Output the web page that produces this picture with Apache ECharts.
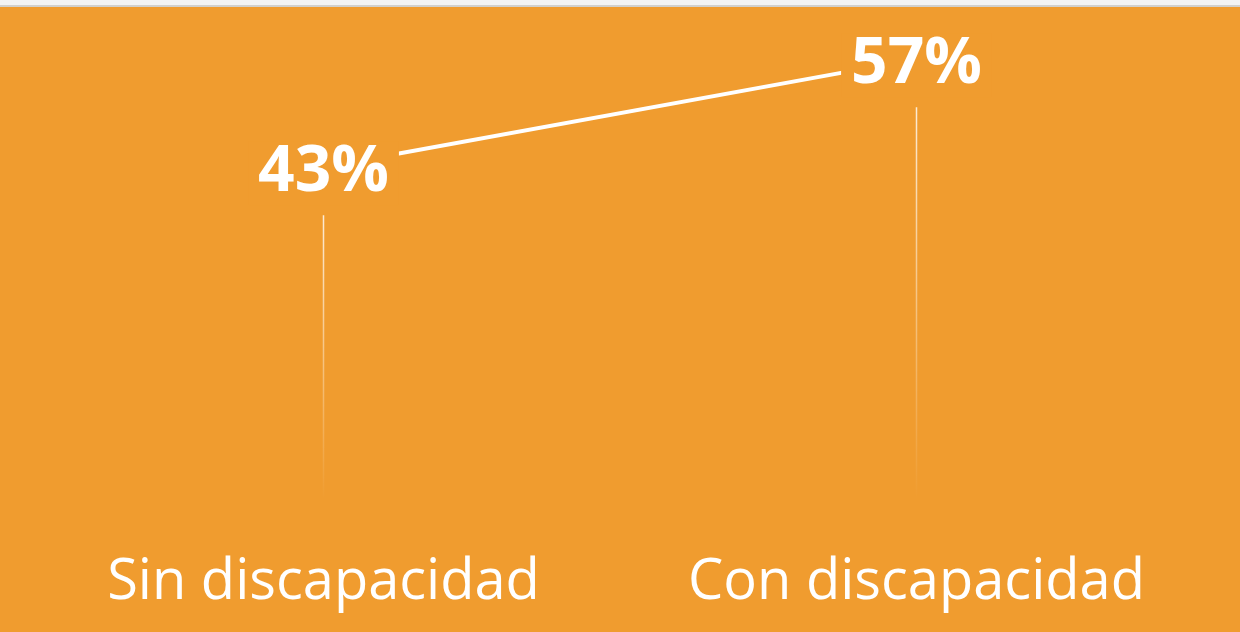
<!DOCTYPE html>
<html>
<head>
<meta charset="utf-8">
<script src="https://cdn.jsdelivr.net/npm/echarts@6/dist/echarts.min.js"></script>
<style>
  html, body { margin: 0; padding: 0; background: #f3f3f3; }
  #chart { width: 1240px; height: 632px; }
</style>
</head>
<body>
<div id="chart"></div>
<script>
// datos
const categorias = ['Sin discapacidad', 'Con discapacidad'];
const porcentajes = [43, 57];

const naranja = '#F09C2F';
const chart = echarts.init(document.getElementById('chart'));

chart.setOption({
  backgroundColor: naranja,
  animation: false,
  graphic: [
    { type: 'rect', shape: { x: 0, y: 0, width: 1240, height: 5 }, style: { fill: '#f3f3f3' }, z: 100 },
    { type: 'rect', shape: { x: 0, y: 5, width: 1240, height: 2 }, style: { fill: '#d2d0cc' }, z: 100 }
  ],
  grid: { left: 27, right: 27, top: 36, bottom: 133 },
  xAxis: {
    type: 'category',
    data: categorias,
    axisLine: { show: false },
    axisTick: { show: false },
    axisLabel: {
      color: '#fff',
      fontFamily: 'Open Sans',
      fontSize: 56,
      margin: 56,
      interval: 0,
      hideOverlap: false
    }
  },
  yAxis: { type: 'value', min: 0, max: 60, show: false },
  series: [
    {
      // lineas verticales que se desvanecen
      type: 'custom',
      z: 1,
      silent: true,
      data: porcentajes.map((v, i) => [i, v]),
      renderItem: function (params, api) {
        const top = api.coord([api.value(0), api.value(1)]);
        const base = api.coord([api.value(0), 0]);
        return {
          type: 'rect',
          shape: { x: top[0] - 0.75, y: top[1] + 48, width: 1.5, height: base[1] - top[1] - 48 },
          style: {
            fill: new echarts.graphic.LinearGradient(0, 0, 0, 1, [
              { offset: 0, color: 'rgba(255,255,255,0.8)' },
              { offset: 1, color: 'rgba(255,255,255,0)' }
            ])
          }
        };
      }
    },
    {
      type: 'line',
      z: 5,
      data: porcentajes,
      symbol: 'circle',
      symbolSize: 1,
      showSymbol: true,
      itemStyle: { color: 'rgba(0,0,0,0)' },
      lineStyle: { color: '#fff', width: 4 },
      label: {
        show: true,
        position: 'inside',
        offset: [0, 6],
        formatter: '{c}%',
        color: '#fff',
        fontFamily: 'Open Sans',
        fontWeight: 'bold',
        fontSize: 64,
        backgroundColor: naranja,
        padding: [0, 10, 0, 10]
      }
    }
  ]
});
</script>
</body>
</html>
